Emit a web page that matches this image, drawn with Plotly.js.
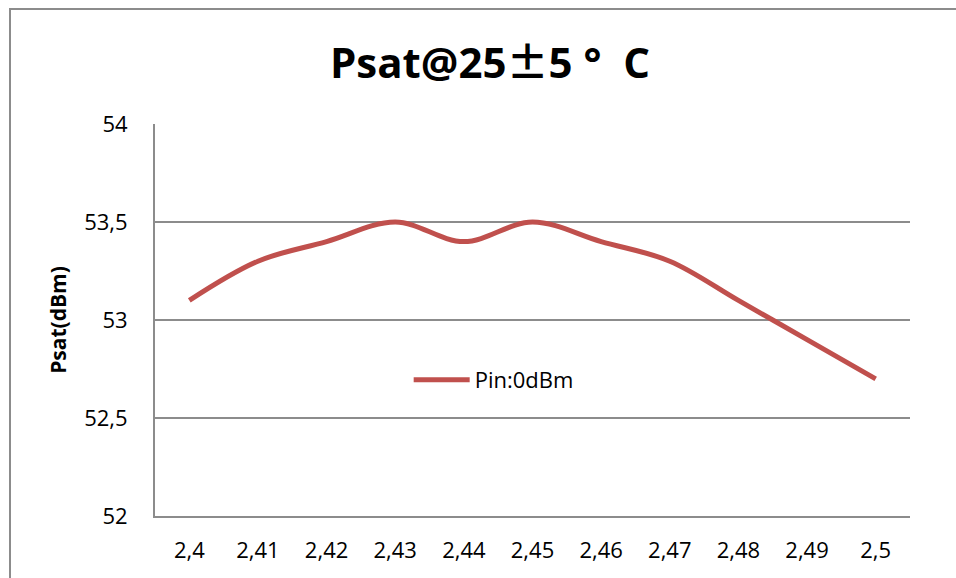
<!DOCTYPE html>
<html>
<head>
<meta charset="utf-8">
<script src="https://cdn.plot.ly/plotly-3.0.1.min.js"></script>
<style>
  html, body { margin: 0; padding: 0; background: #fff; overflow: hidden; }
  #chart { position: absolute; left: 0; top: 0; width: 956px; height: 578px; }
  #frame { position: absolute; left: 9px; top: 8px; width: 2000px; height: 2000px;
           border-left: 2px solid #8c8c8c; border-top: 2px solid #8c8c8c; pointer-events: none; }
</style>
</head>
<body>
<div id="chart"></div>
<div id="frame"></div>
<script>
// Data
const freqLabels = ["2,4", "2,41", "2,42", "2,43", "2,44", "2,45", "2,46", "2,47", "2,48", "2,49", "2,5"];
const psatPin0 = [53.1, 53.3, 53.4, 53.5, 53.4, 53.5, 53.4, 53.3, 53.1, 52.9, 52.7];
const seriesName = "Pin:0dBm";
const yTickVals = [52, 52.5, 53, 53.5, 54];
const yTickText = ["52", "52,5", "53", "53,5", "54"];

const baseFont = "'Open Sans', Lato, 'Noto Sans CJK SC', sans-serif";
const cjk = "'Noto Sans CJK SC'";

const trace = {
  x: freqLabels,
  y: psatPin0,
  type: "scatter",
  mode: "lines",
  name: seriesName,
  line: { color: "#C0504D", width: 5, shape: "spline", smoothing: 1 },
  showlegend: true
};

const layout = {
  width: 956,
  height: 578,
  paper_bgcolor: "#ffffff",
  plot_bgcolor: "#ffffff",
  margin: { l: 155, r: 46, t: 124, b: 62 },
  font: { family: baseFont, color: "#000000", size: 22 },
  title: {
    text: "Psat@25<span style=\"font-family:" + cjk + "\">±</span>5 °  C",
    font: { family: baseFont, size: 42, color: "#000000", weight: "bold" },
    xref: "container", yref: "container",
    x: 0.5125, xanchor: "center",
    y: 0.89, yanchor: "middle"
  },
  xaxis: {
    type: "category",
    range: [-0.5, 10.5],
    showgrid: false,
    zeroline: false,
    showline: true,
    linecolor: "#8c8c8c",
    linewidth: 2,
    ticks: "",
    ticklabelstandoff: 14,
    tickfont: { family: baseFont, size: 22, color: "#000000" },
    fixedrange: true
  },
  yaxis: {
    range: [52, 54],
    tickvals: yTickVals,
    ticktext: yTickText,
    showgrid: true,
    gridcolor: "#8c8c8c",
    gridwidth: 1.3,
    zeroline: false,
    showline: true,
    linecolor: "#8c8c8c",
    linewidth: 2,
    ticks: "",
    ticklabelstandoff: 21,
    tickfont: { family: baseFont, size: 22, color: "#000000" },
    title: {
      text: "Psat(dBm)",
      font: { family: baseFont, size: 21, color: "#000000", weight: "bold" },
      standoff: 12
    },
    fixedrange: true
  },
  legend: {
    x: 0.336, y: 0.347,
    xanchor: "left", yanchor: "middle",
    bgcolor: "rgba(0,0,0,0)",
    font: { family: baseFont, size: 22, color: "#000000" },
    itemwidth: 56
  }
};

Plotly.newPlot("chart", [trace], layout, { displayModeBar: false, staticPlot: true });
</script>
</body>
</html>
